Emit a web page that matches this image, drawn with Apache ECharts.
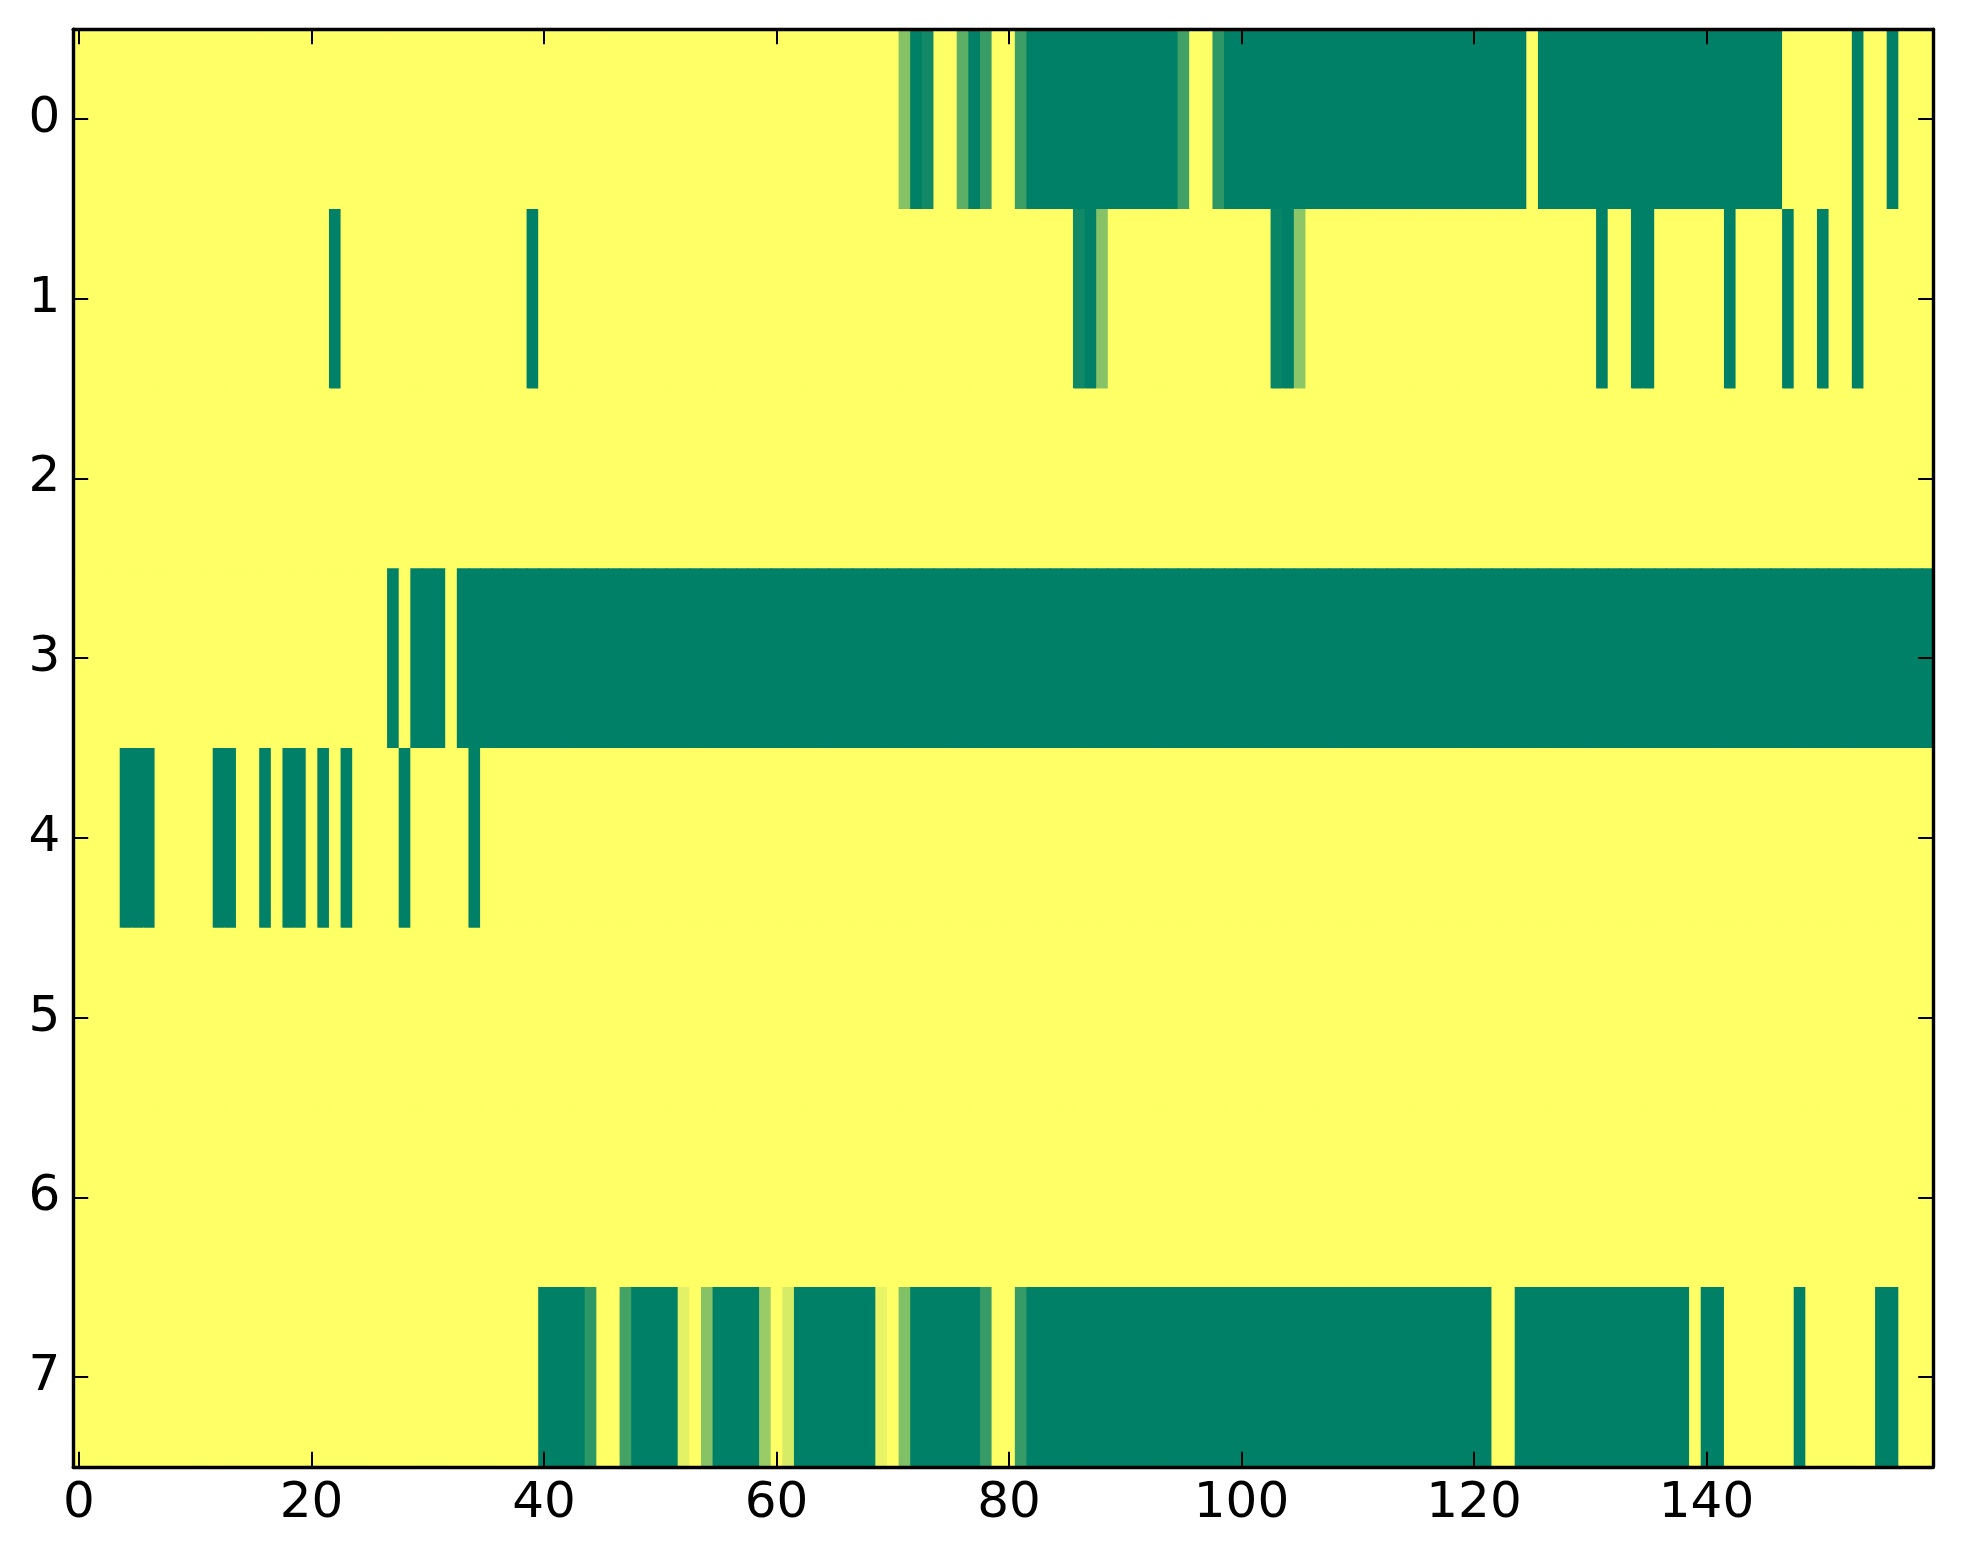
<!DOCTYPE html>
<html>
<head>
<meta charset="utf-8">
<script src="https://cdn.jsdelivr.net/npm/echarts@6/dist/echarts.min.js"></script>
<style>
html,body{margin:0;padding:0;background:#fff;}
#chart{width:1963px;height:1564px;}
</style>
</head>
<body>
<div id="chart"></div>
<script>
// tick labels
var xTickLabels = ['0','20','40','60','80','100','120','140'];
var yTickLabels = ['0','1','2','3','4','5','6','7'];

// cell values per row (1 = yellow, 0 = dark green), 160 columns each
var row0 = [1,1,1,1,1,1,1,1,1,1, 1,1,1,1,1,1,1,1,1,1, 1,1,1,1,1,1,1,1,1,1, 1,1,1,1,1,1,1,1,1,1,
            1,1,1,1,1,1,1,1,1,1, 1,1,1,1,1,1,1,1,1,1, 1,1,1,1,1,1,1,1,1,1, 1,0.52,0,0.07,1,1,0.37,0,0.22,1,
            1,0.24,0,0,0,0,0,0,0,0, 0,0,0,0,0,0.25,1,1,0.18,0, 0,0,0,0,0,0,0,0,0,0, 0,0,0,0,0,0,0,0,0,0,
            0,0,0,0,0,1,0,0,0,0, 0,0,0,0,0,0,0,0,0,0, 0,0,0,0,0,0,0,1,1,1, 1,1,1,0,1,1,0,1,1,1];
var row1 = [1,1,1,1,1,1,1,1,1,1, 1,1,1,1,1,1,1,1,1,1, 1,1,0,1,1,1,1,1,1,1, 1,1,1,1,1,1,1,1,1,0,
            1,1,1,1,1,1,1,1,1,1, 1,1,1,1,1,1,1,1,1,1, 1,1,1,1,1,1,1,1,1,1, 1,1,1,1,1,1,1,1,1,1,
            1,1,1,1,1,1,0.07,0,0.53,1, 1,1,1,1,1,1,1,1,1,1, 1,1,1,0.03,0,0.55,1,1,1,1, 1,1,1,1,1,1,1,1,1,1,
            1,1,1,1,1,1,1,1,1,1, 1,0,1,1,0,0,1,1,1,1, 1,1,0,1,1,1,1,0,1,1, 0,1,1,0,1,1,1,1,1,1];
var row2 = [1,1,1,1,1,1,1,1,1,1, 1,1,1,1,1,1,1,1,1,1, 1,1,1,1,1,1,1,1,1,1, 1,1,1,1,1,1,1,1,1,1,
            1,1,1,1,1,1,1,1,1,1, 1,1,1,1,1,1,1,1,1,1, 1,1,1,1,1,1,1,1,1,1, 1,1,1,1,1,1,1,1,1,1,
            1,1,1,1,1,1,1,1,1,1, 1,1,1,1,1,1,1,1,1,1, 1,1,1,1,1,1,1,1,1,1, 1,1,1,1,1,1,1,1,1,1,
            1,1,1,1,1,1,1,1,1,1, 1,1,1,1,1,1,1,1,1,1, 1,1,1,1,1,1,1,1,1,1, 1,1,1,1,1,1,1,1,1,1];
var row3 = [1,1,1,1,1,1,1,1,1,1, 1,1,1,1,1,1,1,1,1,1, 1,1,1,1,1,1,1,0,1,0, 0,0,1,0,0,0,0,0,0,0,
            0,0,0,0,0,0,0,0,0,0, 0,0,0,0,0,0,0,0,0,0, 0,0,0,0,0,0,0,0,0,0, 0,0,0,0,0,0,0,0,0,0,
            0,0,0,0,0,0,0,0,0,0, 0,0,0,0,0,0,0,0,0,0, 0,0,0,0,0,0,0,0,0,0, 0,0,0,0,0,0,0,0,0,0,
            0,0,0,0,0,0,0,0,0,0, 0,0,0,0,0,0,0,0,0,0, 0,0,0,0,0,0,0,0,0,0, 0,0,0,0,0,0,0,0,0,0];
var row4 = [1,1,1,1,0,0,0,1,1,1, 1,1,0,0,1,1,0,1,0,0, 1,0,1,0,1,1,1,1,0,1, 1,1,1,1,0,1,1,1,1,1,
            1,1,1,1,1,1,1,1,1,1, 1,1,1,1,1,1,1,1,1,1, 1,1,1,1,1,1,1,1,1,1, 1,1,1,1,1,1,1,1,1,1,
            1,1,1,1,1,1,1,1,1,1, 1,1,1,1,1,1,1,1,1,1, 1,1,1,1,1,1,1,1,1,1, 1,1,1,1,1,1,1,1,1,1,
            1,1,1,1,1,1,1,1,1,1, 1,1,1,1,1,1,1,1,1,1, 1,1,1,1,1,1,1,1,1,1, 1,1,1,1,1,1,1,1,1,1];
var row5 = [1,1,1,1,1,1,1,1,1,1, 1,1,1,1,1,1,1,1,1,1, 1,1,1,1,1,1,1,1,1,1, 1,1,1,1,1,1,1,1,1,1,
            1,1,1,1,1,1,1,1,1,1, 1,1,1,1,1,1,1,1,1,1, 1,1,1,1,1,1,1,1,1,1, 1,1,1,1,1,1,1,1,1,1,
            1,1,1,1,1,1,1,1,1,1, 1,1,1,1,1,1,1,1,1,1, 1,1,1,1,1,1,1,1,1,1, 1,1,1,1,1,1,1,1,1,1,
            1,1,1,1,1,1,1,1,1,1, 1,1,1,1,1,1,1,1,1,1, 1,1,1,1,1,1,1,1,1,1, 1,1,1,1,1,1,1,1,1,1];
var row6 = [1,1,1,1,1,1,1,1,1,1, 1,1,1,1,1,1,1,1,1,1, 1,1,1,1,1,1,1,1,1,1, 1,1,1,1,1,1,1,1,1,1,
            1,1,1,1,1,1,1,1,1,1, 1,1,1,1,1,1,1,1,1,1, 1,1,1,1,1,1,1,1,1,1, 1,1,1,1,1,1,1,1,1,1,
            1,1,1,1,1,1,1,1,1,1, 1,1,1,1,1,1,1,1,1,1, 1,1,1,1,1,1,1,1,1,1, 1,1,1,1,1,1,1,1,1,1,
            1,1,1,1,1,1,1,1,1,1, 1,1,1,1,1,1,1,1,1,1, 1,1,1,1,1,1,1,1,1,1, 1,1,1,1,1,1,1,1,1,1];
var row7 = [1,1,1,1,1,1,1,1,1,1, 1,1,1,1,1,1,1,1,1,1, 1,1,1,1,1,1,1,1,1,1, 1,1,1,1,1,1,1,1,1,1,
            0,0,0,0,0.18,1,1,0.27,0,0, 0,0,0.89,1,0.53,0,0,0,0,0.6, 1,0.84,0,0,0,0,0,0,0,0.91, 1,0.5,0,0,0,0,0,0,0.21,1,
            1,0.21,0,0,0,0,0,0,0,0, 0,0,0,0,0,0,0,0,0,0, 0,0,0,0,0,0,0,0,0,0, 0,0,0,0,0,0,0,0,0,0,
            0,0,1,1,0,0,0,0,0,0, 0,0,0,0,0,0,0,0,0,1, 0,0,1,1,1,1,1,1,0,1, 1,1,1,1,1,0,0,1,1,1];

var rows = [row0,row1,row2,row3,row4,row5,row6,row7];
var nCols = row0.length;
var xCategories = [];
for (var c = 0; c < nCols; c++) xCategories.push(String(c));

var cells = [];
rows.forEach(function (r, ri) {
  r.forEach(function (v, ci) { cells.push([ci, ri, v]); });
});

var FONT = 'DejaVu Sans';
function xTickShow(idx) { return xTickLabels.indexOf(String(idx)) >= 0; }

var chart = echarts.init(document.getElementById('chart'), null, {renderer: 'canvas'});
var axisLine = {show: true, lineStyle: {color: '#000', width: 3.4}};
var tickStyle = {color: '#000', width: 2};

function renderCell(params, api) {
  var p = api.coord([api.value(0), api.value(1)]);
  var s = api.size([1, 1]);
  return {
    type: 'rect',
    shape: {x: p[0] - s[0] / 2, y: p[1] - s[1] / 2, width: s[0] + 1, height: s[1] + 1},
    style: {fill: api.visual('color'), stroke: null}
  };
}

chart.setOption({
  backgroundColor: '#ffffff',
  animation: false,
  grid: {left: 73.2, right: 29.8, top: 29.2, bottom: 97.2, containLabel: false},
  visualMap: {
    show: false, type: 'continuous', min: 0, max: 1, dimension: 2, seriesIndex: 0,
    inRange: {color: ['#008066', '#ffff66']}
  },
  xAxis: [{
    type: 'category', data: xCategories, position: 'bottom', z: 10,
    axisLine: axisLine,
    axisTick: {show: true, inside: true, alignWithLabel: true, length: 15, interval: function (i) { return xTickShow(i); }, lineStyle: tickStyle},
    axisLabel: {show: true, interval: function (i) { return xTickShow(i); }, fontFamily: FONT, fontSize: 50, color: '#000', margin: 12},
    splitLine: {show: false}
  }, {
    type: 'category', data: xCategories, position: 'top', z: 10,
    axisLine: axisLine,
    axisTick: {show: true, inside: true, alignWithLabel: true, length: 15, interval: function (i) { return xTickShow(i); }, lineStyle: tickStyle},
    axisLabel: {show: false},
    splitLine: {show: false}
  }],
  yAxis: [{
    type: 'category', data: yTickLabels, inverse: true, position: 'left', z: 10,
    axisLine: axisLine,
    axisTick: {show: true, inside: true, alignWithLabel: true, length: 15, interval: 0, lineStyle: tickStyle},
    axisLabel: {show: true, interval: 0, fontFamily: FONT, fontSize: 50, color: '#000', margin: 13},
    splitLine: {show: false}
  }, {
    type: 'category', data: yTickLabels, inverse: true, position: 'right', z: 10,
    axisLine: axisLine,
    axisTick: {show: true, inside: true, alignWithLabel: true, length: 15, interval: 0, lineStyle: tickStyle},
    axisLabel: {show: false},
    splitLine: {show: false}
  }],
  series: [{
    type: 'custom', xAxisIndex: 0, yAxisIndex: 0,
    coordinateSystem: 'cartesian2d',
    clip: true,
    renderItem: renderCell,
    encode: {x: 0, y: 1},
    data: cells,
    emphasis: {disabled: true},
    progressive: 0
  }]
});
</script>
</body>
</html>
